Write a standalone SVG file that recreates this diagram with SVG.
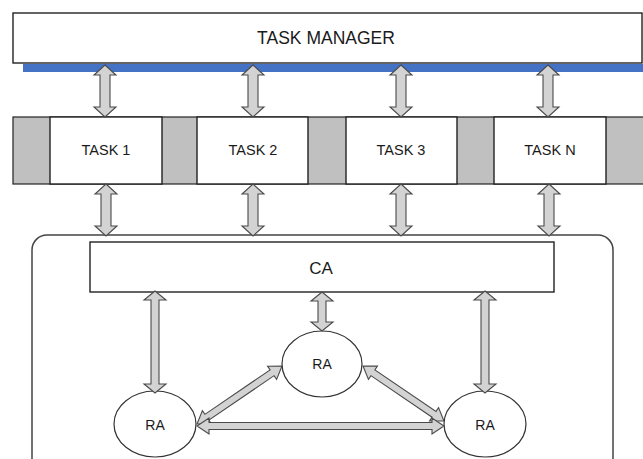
<svg xmlns="http://www.w3.org/2000/svg" width="643" height="459" viewBox="0 0 643 459">
  <style>
    .box { fill: #ffffff; stroke: #222222; stroke-width: 1.4; }
    .slot { fill: #c0c0c0; stroke: #222222; stroke-width: 1.2; }
    .frame { fill: none; stroke: #444444; stroke-width: 1.5; }
    .agent { fill: #ffffff; stroke: #333333; stroke-width: 1.2; }
    .arrow { fill: #d3d3d3; stroke: #4a4a4a; stroke-width: 1.1; stroke-linejoin: miter; }
    .lbl { font-family: "Liberation Sans", Arial, sans-serif; fill: #1a1a1a; text-anchor: middle; }
  </style>

  <rect width="643" height="459" fill="#ffffff"/>

  <!-- manager bar -->
  <g id="task-manager">
    <rect x="23" y="64" width="622" height="8" fill="#4472c4"/>
    <rect class="box" x="13" y="13" width="629" height="50"/>
    <text class="lbl" x="326" y="44" font-size="17.5">TASK MANAGER</text>
  </g>

  <!-- task row with grey separators -->
  <g id="task-row">
    <rect class="slot" x="13" y="117" width="631" height="67"/>
  </g>
  <g id="task-1">
    <rect class="box" x="50" y="117" width="112" height="67"/>
    <text class="lbl" x="106" y="155" font-size="14.5">TASK 1</text>
  </g>
  <g id="task-2">
    <rect class="box" x="197" y="117" width="111" height="67"/>
    <text class="lbl" x="253" y="155" font-size="14.5">TASK 2</text>
  </g>
  <g id="task-3">
    <rect class="box" x="346" y="117" width="111" height="67"/>
    <text class="lbl" x="401" y="155" font-size="14.5">TASK 3</text>
  </g>
  <g id="task-n">
    <rect class="box" x="494" y="117" width="112" height="67"/>
    <text class="lbl" x="550" y="155" font-size="14.5">TASK N</text>
  </g>

  <!-- agent container -->
  <g id="agent-frame">
    <rect class="frame" x="32" y="235" width="581" height="240" rx="15" ry="15"/>
  </g>
  <g id="ca">
    <rect class="box" x="90" y="242" width="464" height="50"/>
    <text class="lbl" x="321" y="274" font-size="17">CA</text>
  </g>
  <g id="ra-left">
    <ellipse class="agent" cx="155" cy="424" rx="41" ry="33"/>
    <text class="lbl" x="155" y="430" font-size="14">RA</text>
  </g>
  <g id="ra-middle">
    <ellipse class="agent" cx="322" cy="364" rx="40" ry="33"/>
    <text class="lbl" x="322" y="369" font-size="14">RA</text>
  </g>
  <g id="ra-right">
    <ellipse class="agent" cx="485" cy="424" rx="41" ry="33"/>
    <text class="lbl" x="485" y="430" font-size="14">RA</text>
  </g>

  <!-- double-headed block arrows -->
  <g id="connectors">
    <!-- manager to tasks -->
    <polygon class="arrow" points="105,65 116,75 110,75 110,107 116,107 105,117 94,107 100,107 100,75 94,75"/>
    <polygon class="arrow" points="253,65 264,75 258,75 258,107 264,107 253,117 242,107 248,107 248,75 242,75"/>
    <polygon class="arrow" points="401,65 412,75 406,75 406,107 412,107 401,117 390,107 396,107 396,75 390,75"/>
    <polygon class="arrow" points="548,65 559,75 553,75 553,107 559,107 548,117 537,107 543,107 543,75 537,75"/>
    <!-- tasks to CA -->
    <polygon class="arrow" points="106,184 117,194 111,194 111,226 117,226 106,236 95,226 101,226 101,194 95,194"/>
    <polygon class="arrow" points="253,184 264,194 258,194 258,226 264,226 253,236 242,226 248,226 248,194 242,194"/>
    <polygon class="arrow" points="401,184 412,194 406,194 406,226 412,226 401,236 390,226 396,226 396,194 390,194"/>
    <polygon class="arrow" points="549,184 560,194 554,194 554,226 560,226 549,236 538,226 544,226 544,194 538,194"/>
    <!-- CA to RAs -->
    <polygon class="arrow" points="155,291 166,300 159,300 159,384 166,384 155,393 144,384 151,384 151,300 144,300"/>
    <polygon class="arrow" points="322,292 333,301 326,301 326,322 333,322 322,331 311,322 318,322 318,301 311,301"/>
    <polygon class="arrow" points="485,291 496,300 489,300 489,384 496,384 485,393 474,384 481,384 481,300 474,300"/>
    <!-- between RAs -->
    <polygon class="arrow" transform="translate(197,424) rotate(-34.3)" points="0,0 12,-8 12,-3.5 90.9,-3.5 90.9,-8 102.9,0 90.9,8 90.9,3.5 12,3.5 12,8"/>
    <polygon class="arrow" transform="translate(363,366) rotate(34.2)" points="0,0 12,-8 12,-3.5 85.9,-3.5 85.9,-8 97.9,0 85.9,8 85.9,3.5 12,3.5 12,8"/>
    <polygon class="arrow" transform="translate(197,426)" points="0,0 12,-8 12,-3.5 235,-3.5 235,-8 247,0 235,8 235,3.5 12,3.5 12,8"/>
  </g>
</svg>
